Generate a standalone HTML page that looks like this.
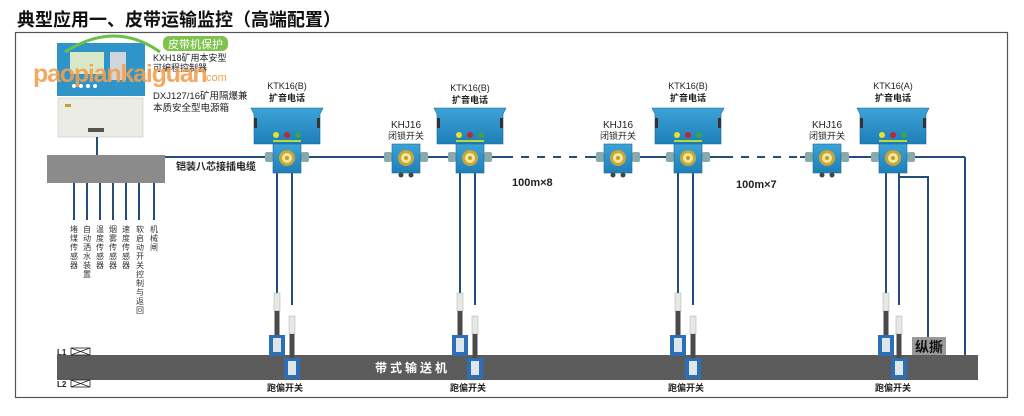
<!DOCTYPE html>
<html><head><meta charset="utf-8"><style>
html,body{margin:0;padding:0;background:#fff;}
svg{display:block;}
text{font-family:"Liberation Sans","Noto Sans CJK SC",sans-serif;}
</style></head><body>
<svg width="1024" height="416" viewBox="0 0 1024 416" xmlns="http://www.w3.org/2000/svg">
<defs>
 <linearGradient id="bl" x1="0" y1="0" x2="0" y2="1"><stop offset="0" stop-color="#3da3d6"/><stop offset="1" stop-color="#1e7fb8"/></linearGradient>
 <g id="jbox">
  <rect x="-22" y="-6" width="8" height="10" fill="#8aa" rx="2"/>
  <rect x="14" y="-6" width="8" height="10" fill="#8aa" rx="2"/>
  <rect x="-14" y="-14" width="28" height="29" fill="url(#bl)" stroke="#1b6a99" stroke-width="0.6"/>
  <circle cx="0" cy="0" r="8" fill="#caa636"/><circle cx="0" cy="0" r="5" fill="#f3e9a0"/><circle cx="0" cy="0" r="2" fill="#c9992a"/>
 </g>
 <g id="phone">
  <path d="M-36,-50 L36,-50 L33,-44 L33,-14 L-33,-14 L-33,-44 Z" fill="url(#bl)" stroke="#1b6a99" stroke-width="0.6"/>
  <rect x="-33" y="-40" width="3" height="10" fill="#333"/><rect x="30" y="-40" width="3" height="10" fill="#333"/>
  <circle cx="-11" cy="-23" r="3" fill="#e8e02a"/><circle cx="0" cy="-23" r="3" fill="#c0282e"/><circle cx="11" cy="-23" r="3" fill="#3aa548"/>
  <rect x="-14" y="-18" width="28" height="2" fill="#b9d83a"/>
  <use href="#jbox"/>
 </g>
 <g id="khj">
  <use href="#jbox"/>
  <circle cx="-5" cy="17" r="2.5" fill="#444"/><circle cx="5" cy="17" r="2.5" fill="#444"/>
 </g>
 <g id="sens">
  <rect x="-3" y="0" width="6" height="18" fill="#e6e9e3" stroke="#999" stroke-width="0.4"/>
  <rect x="-2.5" y="18" width="5" height="28" fill="#4a4a4a"/>
  <rect x="-8" y="42" width="16" height="21" fill="#2c6fb7"/>
  <rect x="-4" y="45" width="8" height="14" fill="#dfe6ea"/>
 </g>
</defs>

<text x="17" y="26" font-size="18" font-weight="bold" fill="#111">典型应用一、皮带运输监控（高端配置）</text>
<rect x="15.5" y="32.5" width="992" height="365" fill="none" stroke="#555" stroke-width="1.2"/>

<!-- controller -->
<rect x="57" y="43" width="88" height="53" fill="#2f95c9"/>
<rect x="70" y="52" width="34" height="22" fill="#d8e8c8"/>
<rect x="110" y="52" width="16" height="28" fill="#cfd6dc"/>
<g fill="#fff"><circle cx="74" cy="86" r="2"/><circle cx="81" cy="86" r="2"/><circle cx="88" cy="86" r="2"/><circle cx="95" cy="86" r="2"/></g>
<path d="M65,52 Q115,20 160,52" fill="none" stroke="#6cc04a" stroke-width="3"/>
<rect x="58" y="98" width="85" height="39" fill="#ececE6" stroke="#bbb" stroke-width="0.5"/>
<rect x="88" y="128" width="16" height="4" fill="#555"/>
<rect x="65" y="104" width="6" height="3" fill="#c9a030"/>
<rect x="163" y="36" width="65" height="15" rx="6" fill="#7fc24e"/>
<text x="195.5" y="48" font-size="11" fill="#fff" text-anchor="middle">皮带机保护</text>
<text x="153" y="61" font-size="9" fill="#222">KXH18矿用本安型</text>
<text x="153" y="71" font-size="9" fill="#222">可编程控制器</text>
<text x="33" y="82" font-size="25" font-weight="bold" fill="#f2a050" opacity="0.9" letter-spacing="-1.2">paopiankaiguan</text>
<text x="203" y="81" font-size="11" fill="#f2a050">.com</text>
<text x="153" y="99" font-size="9.5" fill="#222">DXJ127/16矿用隔爆兼</text>
<text x="153" y="111" font-size="9.5" fill="#222">本质安全型电源箱</text>

<!-- gray junction box -->
<line x1="97" y1="137" x2="97" y2="155" stroke="#234d7a" stroke-width="2"/>
<rect x="47" y="155" width="118" height="28" fill="#8b8b8b"/>
<g stroke="#234d7a" stroke-width="2">
 <line x1="74" y1="183" x2="74" y2="220"/><line x1="87" y1="183" x2="87" y2="220"/><line x1="100" y1="183" x2="100" y2="220"/>
 <line x1="113" y1="183" x2="113" y2="220"/><line x1="126" y1="183" x2="126" y2="220"/><line x1="139" y1="183" x2="139" y2="220"/><line x1="154" y1="183" x2="154" y2="220"/>
</g>
<g font-size="8" fill="#333" text-anchor="middle">
 <text x="74" y="232">堵</text><text x="74" y="241">煤</text><text x="74" y="250">传</text><text x="74" y="259">感</text><text x="74" y="268">器</text>
 <text x="87" y="232">自</text><text x="87" y="241">动</text><text x="87" y="250">洒</text><text x="87" y="259">水</text><text x="87" y="268">装</text><text x="87" y="277">置</text>
 <text x="100" y="232">温</text><text x="100" y="241">度</text><text x="100" y="250">传</text><text x="100" y="259">感</text><text x="100" y="268">器</text>
 <text x="113" y="232">烟</text><text x="113" y="241">雾</text><text x="113" y="250">传</text><text x="113" y="259">感</text><text x="113" y="268">器</text>
 <text x="126" y="232">速</text><text x="126" y="241">度</text><text x="126" y="250">传</text><text x="126" y="259">感</text><text x="126" y="268">器</text>
 <text x="140" y="232">软</text><text x="140" y="241">启</text><text x="140" y="250">动</text><text x="140" y="259">开</text><text x="140" y="268">关</text><text x="140" y="277">控</text><text x="140" y="286">制</text><text x="140" y="295">与</text><text x="140" y="304">返</text><text x="140" y="313">回</text>
 <text x="154" y="232">机</text><text x="154" y="241">械</text><text x="154" y="250">闸</text>
</g>

<!-- main cable -->
<g stroke="#234d7a" stroke-width="2" fill="none">
 <line x1="165" y1="157" x2="505" y2="157"/>
 <line x1="505" y1="157" x2="590" y2="157" stroke-dasharray="8,8"/>
 <line x1="590" y1="157" x2="725" y2="157"/>
 <line x1="725" y1="157" x2="800" y2="157" stroke-dasharray="8,8"/>
 <line x1="800" y1="157" x2="965" y2="157"/>
 <polyline points="965,157 965,355"/>
 <polyline points="899,177 928,177 928,345"/>
</g>
<text x="176" y="170" font-size="10" font-weight="bold" fill="#222">铠装八芯接插电缆</text>
<text x="512" y="186" font-size="11" font-weight="bold" fill="#222">100m×8</text>
<text x="736" y="188" font-size="11" font-weight="bold" fill="#222">100m×7</text>

<!-- drop lines -->
<g stroke="#234d7a" stroke-width="2">
 <line x1="277" y1="170" x2="277" y2="295"/><line x1="292" y1="170" x2="292" y2="305"/>
 <line x1="460" y1="170" x2="460" y2="295"/><line x1="475" y1="170" x2="475" y2="305"/>
 <line x1="678" y1="170" x2="678" y2="295"/><line x1="693" y1="170" x2="693" y2="305"/>
 <line x1="886" y1="170" x2="886" y2="295"/><line x1="899" y1="170" x2="899" y2="305"/>
</g>

<!-- conveyor -->
<rect x="57" y="355" width="921" height="25" fill="#5c5c5c"/>
<text x="375" y="372" font-size="12" font-weight="bold" fill="#fff" letter-spacing="3">带式输送机</text>
<text x="57" y="355" font-size="8" font-weight="bold" fill="#222">L1</text>
<rect x="71" y="348" width="19" height="7" fill="#fff" stroke="#222" stroke-width="0.8"/><path d="M71,348 L90,355 M71,355 L90,348" stroke="#222" stroke-width="0.8"/>
<text x="57" y="387" font-size="8" font-weight="bold" fill="#222">L2</text>
<rect x="71" y="380" width="19" height="7" fill="#fff" stroke="#222" stroke-width="0.8"/><path d="M71,380 L90,387 M71,387 L90,380" stroke="#222" stroke-width="0.8"/>
<rect x="912" y="337" width="34" height="18" fill="#999"/>
<text x="929" y="352" font-size="14" font-weight="bold" fill="#111" text-anchor="middle">纵撕</text>

<!-- sensors -->
<use href="#sens" x="277" y="293"/><use href="#sens" x="292" y="316"/>
<use href="#sens" x="460" y="293"/><use href="#sens" x="475" y="316"/>
<use href="#sens" x="678" y="293"/><use href="#sens" x="693" y="316"/>
<use href="#sens" x="886" y="293"/><use href="#sens" x="899" y="316"/>
<g font-size="9" font-weight="bold" fill="#222" text-anchor="middle">
 <text x="285" y="391">跑偏开关</text><text x="468" y="391">跑偏开关</text><text x="686" y="391">跑偏开关</text><text x="893" y="391">跑偏开关</text>
</g>

<!-- devices -->
<use href="#phone" x="287" y="158"/>
<use href="#phone" x="470" y="158"/>
<use href="#phone" x="688" y="158"/>
<use href="#phone" x="893" y="158"/>
<use href="#khj" x="406" y="158"/>
<use href="#khj" x="618" y="158"/>
<use href="#khj" x="827" y="158"/>

<g font-size="9" fill="#222" text-anchor="middle">
 <text x="287" y="89">KTK16(B)</text><text x="287" y="101" font-weight="bold">扩音电话</text>
 <text x="470" y="91">KTK16(B)</text><text x="470" y="103" font-weight="bold">扩音电话</text>
 <text x="688" y="89">KTK16(B)</text><text x="688" y="101" font-weight="bold">扩音电话</text>
 <text x="893" y="89">KTK16(A)</text><text x="893" y="101" font-weight="bold">扩音电话</text>
 <text x="406" y="128" font-size="10">KHJ16</text><text x="406" y="139">闭锁开关</text>
 <text x="618" y="128" font-size="10">KHJ16</text><text x="618" y="139">闭锁开关</text>
 <text x="827" y="128" font-size="10">KHJ16</text><text x="827" y="139">闭锁开关</text>
</g>
</svg>
</body></html>
